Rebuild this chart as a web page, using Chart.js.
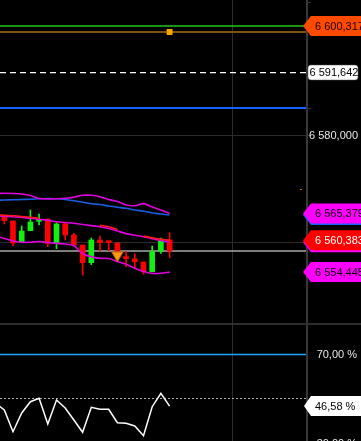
<!DOCTYPE html>
<html><head><meta charset="utf-8">
<script src="https://cdn.jsdelivr.net/npm/chart.js@4.4.1/dist/chart.umd.min.js"></script>
<style>
html,body{margin:0;padding:0;background:#000;width:361px;height:441px;overflow:hidden}
canvas{position:absolute;left:0;display:block}
#main{top:0}
#sep{position:absolute;left:0;top:323px;width:361px;height:2px;background:#2e2e2e}
#rsi{top:325px}
</style></head><body>
<canvas id="main" width="361" height="323"></canvas>
<div id="sep"></div>
<canvas id="rsi" width="361" height="116"></canvas>
<script>
// ---- data ----
const candleIdx = [0,1,2,3,4,5,6,7,8,9,10,11,12,13,14,15,16,17,18,19];
const openP  = [6564.77,6563.97,6560.06,6562.16,6563.91,6564.34,6559.87,6563.47,6561.36,6559.50,6556.20,6560.43,6560.06,6559.87,6557.07,6556.89,6556.33,6554.52,6558.38,6560.43];
const highP  = [6564.77,6563.97,6563.04,6566.02,6565.27,6564.34,6563.65,6563.47,6561.68,6559.50,6560.80,6561.17,6560.06,6559.87,6558.25,6557.82,6556.33,6559.31,6560.80,6561.79];
const lowP   = [6563.41,6559.37,6560.06,6562.16,6563.22,6559.18,6558.81,6560.43,6559.50,6553.90,6555.82,6558.38,6558.38,6558.38,6555.45,6555.15,6554.04,6554.52,6557.95,6557.13];
const closeP = [6564.03,6559.87,6562.11,6563.78,6564.29,6559.81,6563.41,6561.36,6559.50,6556.20,6560.43,6559.93,6559.93,6558.38,6556.95,6556.38,6554.52,6558.25,6560.24,6558.38];

const bandIdx   = [-1,0,1,2,3,4,5,6,7,8,9,10,11,12,13,14,15,16,17,18,19];
const upperBand = [6569.10,6569.13,6569.10,6569.00,6568.72,6568.16,6568.07,6568.11,6568.20,6568.41,6568.76,6568.76,6568.50,6567.98,6567.61,6566.95,6566.82,6567.21,6566.58,6566.02,6565.379];
const blueLine  = [6567.83,6567.88,6567.92,6567.98,6568.02,6568.11,6568.16,6568.11,6567.98,6567.74,6567.47,6567.18,6567.05,6566.77,6566.54,6566.34,6566.02,6565.78,6565.46,6565.28,6565.09];
const midBand   = [6564.96,6564.85,6564.75,6564.64,6564.47,6564.29,6564.10,6563.82,6563.69,6563.56,6563.32,6563.11,6562.89,6562.59,6562.11,6561.62,6561.32,6561.03,6560.67,6560.35,6560.02];
const redLine   = [6565.15,6565.05,6564.95,6564.82,6564.65,6564.48,null,null,null,null,null,null,6563.15,6562.90,6562.40,null,null,6561.15,6560.85,6560.60,6560.383];
const lowerBand = [6561.17,6560.71,6560.24,6560.00,6560.00,6560.15,6559.96,6559.80,6559.68,6559.40,6557.91,6557.30,6557.02,6556.98,6556.42,6555.90,6555.17,6554.56,6554.19,6554.22,6554.445];
const rsiValues = [47.93,44.83,35.08,43.48,48.56,50.09,38.54,49.33,45.73,40.34,34.81,46.04,45.15,45.15,39.12,38.85,37.64,33.28,46.31,52.34,46.58];

const targetLevel = 6600.317;
const stopLevel = 6599.20;
const alertLevel = 6591.642;
const resistLevel = 6585.03;
const lastClose = 6558.38;
const priceGrid = [6560, 6580];
const priceTicks = [6580];
const stopMarkerIdx = [19];
const signalIdx = [13];
const signalPrice = [6557.58];
const rsiTicks = [70, 30];
const rsiHigh = 70;
const rsiMid = 50;
const timeGrid = [26.17];

// ---- helpers ----
const FONT = '11px "Liberation Sans", Arial, sans-serif';
function fmt(v, d){
  const s = v.toFixed(d).split('.');
  const ip = s[0].replace(/\B(?=(\d{3})+(?!\d))/g, ' ');
  return ip + ',' + s[1];
}
function tag(ctx, y, text, fill, color){
  ctx.save();
  ctx.beginPath();
  ctx.moveTo(303, y);
  ctx.lineTo(311, y - 10);
  ctx.lineTo(362, y - 10);
  ctx.lineTo(362, y + 10);
  ctx.lineTo(311, y + 10);
  ctx.closePath();
  ctx.fillStyle = fill;
  ctx.fill();
  ctx.fillStyle = color;
  ctx.font = FONT;
  ctx.textBaseline = 'middle';
  ctx.textAlign = 'left';
  ctx.fillText(text, 315, y + 0.5);
  ctx.restore();
}
function hline(ctx, area, y, color, w, dash){
  ctx.save();
  ctx.strokeStyle = color; ctx.lineWidth = w;
  ctx.setLineDash(dash || []);
  ctx.beginPath(); ctx.moveTo(area.left, y); ctx.lineTo(area.right, y); ctx.stroke();
  ctx.restore();
}
function vline(ctx, x, top, bottom, color, w){
  ctx.save();
  ctx.strokeStyle = color; ctx.lineWidth = w;
  ctx.beginPath(); ctx.moveTo(x, top); ctx.lineTo(x, bottom); ctx.stroke();
  ctx.restore();
}

const X_MIN = -0.494, X_MAX = 34.68;
const candleColor = candleIdx.map((_, i) => closeP[i] >= openP[i] ? '#12f012' : '#ff0000');

const mainPlugin = {
  id: 'mainDeco',
  beforeDatasetsDraw(chart){
    const ctx = chart.ctx, a = chart.chartArea, ys = chart.scales.y, xs = chart.scales.x;
    priceGrid.forEach(v => hline(ctx, a, Math.round(ys.getPixelForValue(v)) + 0.5, '#2c2c2c', 1));
    timeGrid.forEach(v => vline(ctx, Math.round(xs.getPixelForValue(v)) + 0.5, 0, chart.height, '#2c2c2c', 1));
    hline(ctx, a, ys.getPixelForValue(targetLevel), '#1ec81e', 1.5);
    hline(ctx, a, ys.getPixelForValue(stopLevel), '#7e5210', 2);
    hline(ctx, a, ys.getPixelForValue(alertLevel), '#ffffff', 1.2, [6, 4]);
    hline(ctx, a, ys.getPixelForValue(resistLevel), '#1462ff', 2.2);
    hline(ctx, a, ys.getPixelForValue(lastClose), '#a8a8a8', 1.5);
  },
  afterDraw(chart){
    const ctx = chart.ctx, a = chart.chartArea, ys = chart.scales.y;
    vline(ctx, a.right + 1, 0, chart.height, '#383838', 2);
    ctx.save(); ctx.strokeStyle = '#383838'; ctx.lineWidth = 1;
    [resistLevel, 6604.8].concat(priceGrid).forEach(v => { const y = Math.round(ys.getPixelForValue(v)) + 0.5; ctx.beginPath(); ctx.moveTo(a.right + 2, y); ctx.lineTo(a.right + 5, y); ctx.stroke(); });
    ctx.restore();
    ctx.save(); ctx.fillStyle = '#c07000'; ctx.fillRect(a.right - 6, Math.round(ys.getPixelForValue(6569.93)), 2, 1); ctx.restore();
    ctx.save(); ctx.font = FONT; ctx.fillStyle = '#e8e8e8'; ctx.textBaseline = 'middle'; ctx.textAlign = 'right';
    priceTicks.forEach(v => ctx.fillText(fmt(v, 3), 358, ys.getPixelForValue(v) + 0.5));
    ctx.restore();
    const ya = ys.getPixelForValue(alertLevel);
    ctx.save();
    ctx.beginPath(); ctx.roundRect(308, ya - 7.5, 50, 15, 3);
    ctx.fillStyle = '#ffffff'; ctx.fill();
    ctx.strokeStyle = '#555'; ctx.lineWidth = 0.5; ctx.stroke();
    ctx.fillStyle = '#000'; ctx.font = FONT; ctx.textBaseline = 'middle'; ctx.textAlign = 'left';
    ctx.fillText(fmt(alertLevel, 3), 309.5, ya + 0.5);
    ctx.restore();
    tag(ctx, ys.getPixelForValue(targetLevel), fmt(targetLevel, 3), '#ff4a00', '#1a0000');
    const last = upperBand.length - 1;
    tag(ctx, ys.getPixelForValue(blueLine[last]), fmt(blueLine[last], 3), '#1462ff', '#000');
    tag(ctx, ys.getPixelForValue(upperBand[last]), fmt(upperBand[last], 3), '#ff00ff', '#000');
    tag(ctx, ys.getPixelForValue(midBand[last]), fmt(midBand[last], 3), '#ff00ff', '#000');
    tag(ctx, ys.getPixelForValue(redLine[last]), fmt(redLine[last], 3), '#ff0000', '#ffffff');
    tag(ctx, ys.getPixelForValue(lowerBand[last]), fmt(lowerBand[last], 3), '#ff00ff', '#000');
  }
};

const pts = (xsArr, ysArr) => xsArr.map((x, i) => ({x, y: ysArr[i]}));
const lineDs = (data, color, w, order) => ({type: 'line', data, borderColor: color, borderWidth: w, pointRadius: 0, tension: 0.3, spanGaps: false, order});

new Chart(document.getElementById('main'), {
  type: 'bar',
  data: {
    datasets: [
      {type: 'scatter', data: pts(stopMarkerIdx, stopMarkerIdx.map(() => stopLevel)), pointStyle: 'rect', pointRadius: 4.2, backgroundColor: '#ffa500', borderWidth: 0, order: 0},
      {type: 'scatter', data: pts(signalIdx, signalPrice), pointStyle: 'triangle', rotation: 180, pointRadius: 6.5, backgroundColor: '#ff9a10', borderColor: '#c86400', borderWidth: 1, order: 0},
      lineDs(pts(bandIdx, redLine), '#ff1a1a', 1.6, 1),
      lineDs(pts(bandIdx, upperBand), '#e000e0', 1.6, 2),
      lineDs(pts(bandIdx, blueLine), '#1a5ee0', 1.6, 3),
      lineDs(pts(bandIdx, midBand), '#e000e0', 1.6, 2),
      lineDs(pts(bandIdx, lowerBand), '#e000e0', 1.6, 2),
      {type: 'bar', data: candleIdx.map((x, i) => ({x, y: [openP[i], closeP[i]]})), backgroundColor: candleColor, barThickness: 5, minBarLength: 2, grouped: false, borderWidth: 0, order: 5},
      {type: 'bar', data: candleIdx.map((x, i) => ({x, y: [lowP[i], highP[i]]})), backgroundColor: candleColor, barThickness: 1, grouped: false, borderWidth: 0, order: 6}
    ]
  },
  options: {
    responsive: false, animation: false, events: [],
    layout: {autoPadding: false, padding: {left: 0, right: 55, top: 0, bottom: 0}},
    plugins: {legend: {display: false}, tooltip: {enabled: false}},
    scales: {
      x: {type: 'linear', display: false, min: X_MIN, max: X_MAX, offset: false},
      y: {type: 'linear', display: false, min: 6544.958, max: 6605.163}
    }
  },
  plugins: [mainPlugin]
});

const rsiPlugin = {
  id: 'rsiDeco',
  beforeDatasetsDraw(chart){
    const ctx = chart.ctx, a = chart.chartArea, ys = chart.scales.y, xs = chart.scales.x;
    timeGrid.forEach(v => vline(ctx, Math.round(xs.getPixelForValue(v)) + 0.5, 0, chart.height, '#2c2c2c', 1));
    hline(ctx, a, Math.round(ys.getPixelForValue(rsiHigh)) + 0.5, '#1aa8ff', 1.3);
    hline(ctx, a, Math.round(ys.getPixelForValue(rsiMid)) + 0.5, '#b0b0b0', 1, [2, 2]);
  },
  afterDraw(chart){
    const ctx = chart.ctx, a = chart.chartArea, ys = chart.scales.y;
    vline(ctx, a.right + 1, 0, chart.height, '#383838', 2);
    ctx.save(); ctx.font = FONT; ctx.fillStyle = '#e8e8e8'; ctx.textBaseline = 'middle'; ctx.textAlign = 'right';
    rsiTicks.forEach(v => ctx.fillText(v.toFixed(2).replace('.', ',') + ' %', 357, ys.getPixelForValue(v) + 0.5));
    ctx.restore();
    const last = rsiValues[rsiValues.length - 1];
    const y = ys.getPixelForValue(last);
    ctx.save();
    ctx.beginPath();
    ctx.moveTo(304, y); ctx.lineTo(311, y - 10); ctx.lineTo(362, y - 10); ctx.lineTo(362, y + 10); ctx.lineTo(311, y + 10); ctx.closePath();
    ctx.fillStyle = '#ffffff'; ctx.fill();
    ctx.fillStyle = '#000'; ctx.font = FONT; ctx.textBaseline = 'middle'; ctx.textAlign = 'left';
    ctx.fillText(last.toFixed(2).replace('.', ',') + ' %', 315, y + 0.5);
    ctx.restore();
  }
};

new Chart(document.getElementById('rsi'), {
  type: 'line',
  data: {datasets: [{data: pts(bandIdx, rsiValues), borderColor: '#ffffff', borderWidth: 1.5, pointRadius: 0, tension: 0}]},
  options: {
    responsive: false, animation: false, events: [],
    layout: {autoPadding: false, padding: {left: 0, right: 55, top: 0, bottom: 0}},
    plugins: {legend: {display: false}, tooltip: {enabled: false}},
    scales: {
      x: {type: 'linear', display: false, min: X_MIN, max: X_MAX},
      y: {type: 'linear', display: false, min: 30.90, max: 83.03}
    }
  },
  plugins: [rsiPlugin]
});
</script>
</body></html>
